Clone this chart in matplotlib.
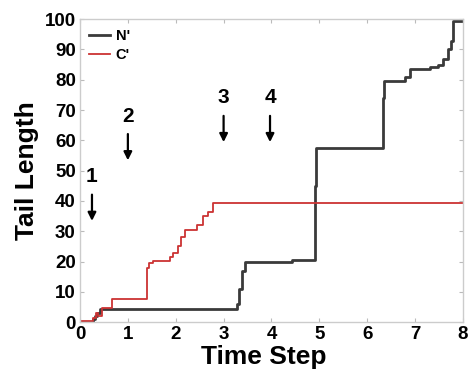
import matplotlib
matplotlib.use("Agg")
import matplotlib.pyplot as plt

plt.rcParams['font.family'] = ['Liberation Sans', 'DejaVu Sans']
plt.rcParams['font.weight'] = 'bold'

# N' tail length (step series)
n_time = [0, 0.28, 0.32, 0.36, 0.42, 3.28, 3.33, 3.38, 3.45, 4.43, 4.9, 4.93,
          6.33, 6.36, 6.79, 6.89, 7.31, 7.47, 7.58, 7.68, 7.76, 7.79, 8.0]
n_val = [0, 1, 2, 3, 4.5, 6, 11, 17, 19.8, 20.5, 45, 57.5,
         74, 79.5, 81, 83.4, 84.3, 85, 86.7, 90, 92.8, 99.3, 99.3]

# C' tail length (step series)
c_time = [0, 0.27, 0.33, 0.38, 0.46, 0.66, 1.39, 1.45, 1.53, 1.88, 1.95, 2.05,
          2.12, 2.19, 2.45, 2.57, 2.67, 2.78, 8.0]
c_val = [0.5, 1.5, 3, 2, 4.6, 7.6, 18, 19.5, 20.3, 21.6, 22.8, 25,
         28, 30.5, 32, 35, 36.5, 39.4, 39.4]

# annotations: label, x, y of label
ann_labels = ['1', '2', '3', '4']
ann_x = [0.25, 1.0, 3.0, 3.97]
ann_y = [48, 68, 74, 74]

xticks = [0, 1, 2, 3, 4, 5, 6, 7, 8]
yticks = [0, 10, 20, 30, 40, 50, 60, 70, 80, 90, 100]

fig = plt.figure(figsize=(4.69, 3.72), dpi=100)
ax = fig.add_axes([0.1706, 0.134, 0.8164, 0.8145])

ax.plot(n_time, n_val, drawstyle='steps-post', color='#3a3a3a', lw=2.0, label="N'")
ax.plot(c_time, c_val, drawstyle='steps-post', color='#cc3333', lw=1.3, label="C'")

for lab, x, y in zip(ann_labels, ann_x, ann_y):
    ax.text(x, y, lab, ha='center', va='center', fontsize=15, fontweight='bold')
    ax.annotate('', xy=(x, y - 15.5), xytext=(x, y - 5),
                arrowprops=dict(arrowstyle='-|>', color='black', lw=1.6,
                                mutation_scale=12))

ax.set_xlim(0, 8)
ax.set_ylim(0, 100)
ax.set_xticks(xticks)
ax.set_yticks(yticks)
ax.tick_params(direction='in', top=True, right=True, length=3, color='#bbbbbb',
               labelsize=13.5, pad=3)
for lab in ax.get_xticklabels() + ax.get_yticklabels():
    lab.set_fontweight('bold')
for sp in ax.spines.values():
    sp.set_color('#cccccc')
    sp.set_linewidth(1.0)

ax.set_xlabel('Time Step', fontsize=19, fontweight='bold', labelpad=0)
ax.set_ylabel('Tail Length', fontsize=19, fontweight='bold', labelpad=4)
ax.xaxis.set_label_coords(0.48, -0.075)

leg = ax.legend(loc='upper left', frameon=False, handlelength=1.4,
                handletextpad=0.4, labelspacing=0.35, borderaxespad=0.25,
                prop={'weight': 'bold', 'size': 10.5})

fig.savefig('out.png', dpi=100)
